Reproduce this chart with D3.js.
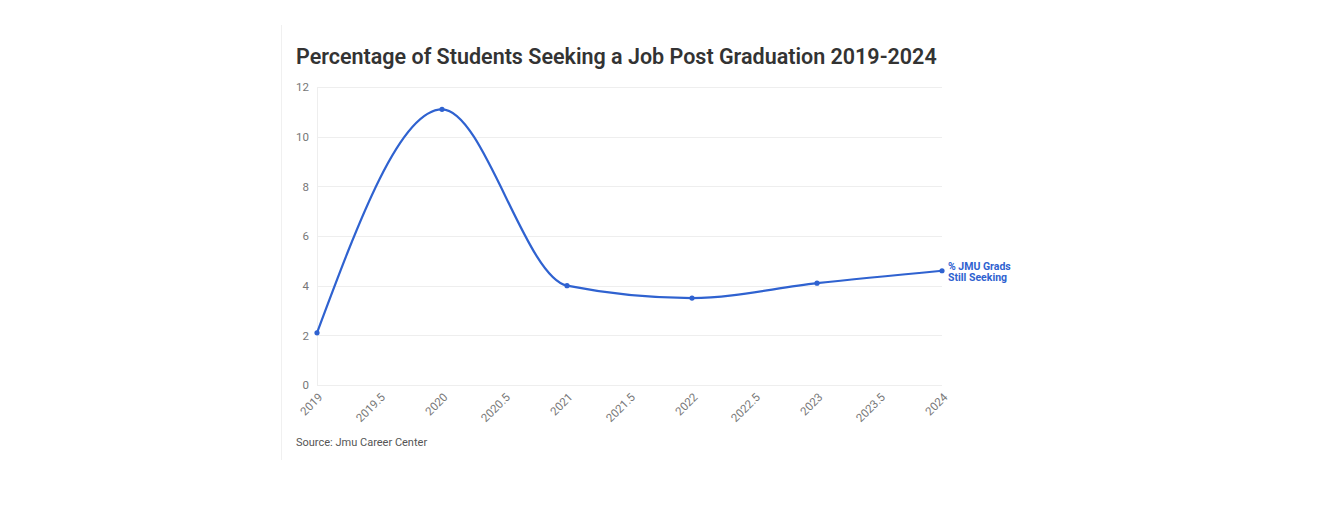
<!DOCTYPE html>
<html><head><meta charset="utf-8">
<script src="https://cdn.jsdelivr.net/npm/d3@7"></script>
<style>body{margin:0;background:#fff;}svg{display:block;}</style>
</head><body>
<svg id="c" width="1322" height="506"></svg>
<script>
const years = [2019, 2020, 2021, 2022, 2023, 2024];
const values = [2.1, 11.1, 4.0, 3.5, 4.1, 4.6];
const xTicks = [2019, 2019.5, 2020, 2020.5, 2021, 2021.5, 2022, 2022.5, 2023, 2023.5, 2024];
const yTicks = [0, 2, 4, 6, 8, 10, 12];
const seriesLabel = ["% JMU Grads", "Still Seeking"];
const title = "Percentage of Students Seeking a Job Post Graduation 2019-2024";
const source = "Source: Jmu Career Center";

const svg = d3.select("#c");
const font = "Roboto, 'Open Sans', sans-serif";
const blue = "#2f62d0";

// card left border
svg.append("line").attr("x1",281.5).attr("x2",281.5).attr("y1",25).attr("y2",460)
  .attr("stroke","#f0f0f0").attr("stroke-width",1);

const x = d3.scaleLinear().domain([2019, 2024]).range([317, 942]);
const y = d3.scaleLinear().domain([0, 12]).range([385, 87]);

svg.append("text").attr("x",296).attr("y",64).text(title)
  .attr("font-family",font).attr("font-weight",600).attr("font-size",21.5)
  .attr("fill","#333");

// gridlines
svg.append("g").selectAll("line").data(yTicks).join("line")
  .attr("x1",317).attr("x2",942)
  .attr("y1",d=>Math.round(y(d))+0.5).attr("y2",d=>Math.round(y(d))+0.5)
  .attr("stroke","#eeeeee");

// y axis
const ya = svg.append("g").attr("transform","translate(317,0)")
  .call(d3.axisLeft(y).tickValues(yTicks).tickSize(0).tickPadding(8));
ya.select(".domain").attr("stroke","#eeeeee");
ya.selectAll("text").attr("font-family",font).attr("font-size",11.5).attr("fill","#777");

// x axis
const xa = svg.append("g").attr("transform","translate(0,385)")
  .call(d3.axisBottom(x).tickValues(xTicks).tickFormat(d=>String(d)).tickSize(0).tickPadding(6));
xa.select(".domain").remove();
xa.selectAll("text").attr("font-family",font).attr("font-size",11.5).attr("fill","#777")
  .attr("text-anchor","end").attr("y",0).attr("dy","0.35em")
  .attr("transform","translate(3,10) rotate(-45)");

const data = years.map((yr,i)=>({yr, v: values[i]}));
const line = d3.line().x(d=>x(d.yr)).y(d=>y(d.v)).curve(d3.curveMonotoneX);
svg.append("path").datum(data).attr("d",line).attr("fill","none")
  .attr("stroke",blue).attr("stroke-width",2.2);
svg.append("g").selectAll("circle").data(data).join("circle")
  .attr("cx",d=>x(d.yr)).attr("cy",d=>y(d.v)).attr("r",2.6).attr("fill",blue);

// series label
const last = data[data.length-1];
svg.append("text").attr("x",x(last.yr)+6).attr("y",y(last.v)-1)
  .attr("font-family",font).attr("font-weight",700).attr("font-size",10.5).attr("fill",blue)
  .selectAll("tspan").data(seriesLabel).join("tspan")
  .attr("x",x(last.yr)+6).attr("dy",(d,i)=>i===0?0:11).text(d=>d);

svg.append("text").attr("x",296).attr("y",446).text(source)
  .attr("font-family",font).attr("font-size",11).attr("fill","#555");
</script>
</body></html>
